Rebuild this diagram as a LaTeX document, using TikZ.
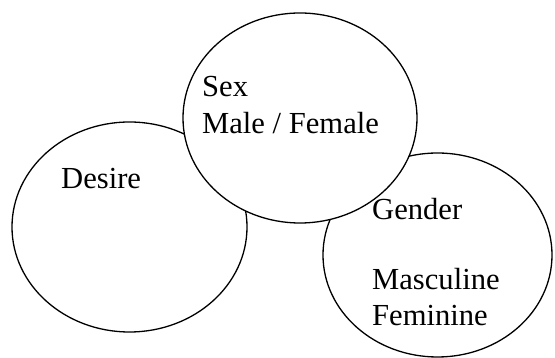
\documentclass[tikz,border=0pt]{standalone}
\usepackage{fontspec}
\setmainfont{Liberation Serif}
\usetikzlibrary{shapes.geometric}
\begin{document}
\begin{tikzpicture}[x=1pt,y=1pt,
  blob/.style={ellipse, draw=black, line width=1.3pt, fill=white, inner sep=0pt},
  lbl/.style={anchor=base west, inner sep=0pt, font=\fontsize{30.6}{36.7}\selectfont}]
\useasboundingbox (0,0) rectangle (555,358);
\node[blob, minimum width=235pt, minimum height=210pt] (desire) at (129.5,131) {};
\node[blob, minimum width=229pt, minimum height=204pt] (gender) at (437.5,103) {};
\node[blob, minimum width=234pt, minimum height=210pt] (sex) at (300,240) {};
\node[lbl] (tdesire) at (61,169) {Desire};
\node[lbl] (tsex) at (202,261) {Sex};
\node[lbl] (tmf) at (202,224) {Male / Female};
\node[lbl] (tgender) at (372,138) {Gender};
\node[lbl] (tmasc) at (372,68) {Masculine};
\node[lbl] (tfem) at (372,32) {Feminine};
\end{tikzpicture}
\end{document}
